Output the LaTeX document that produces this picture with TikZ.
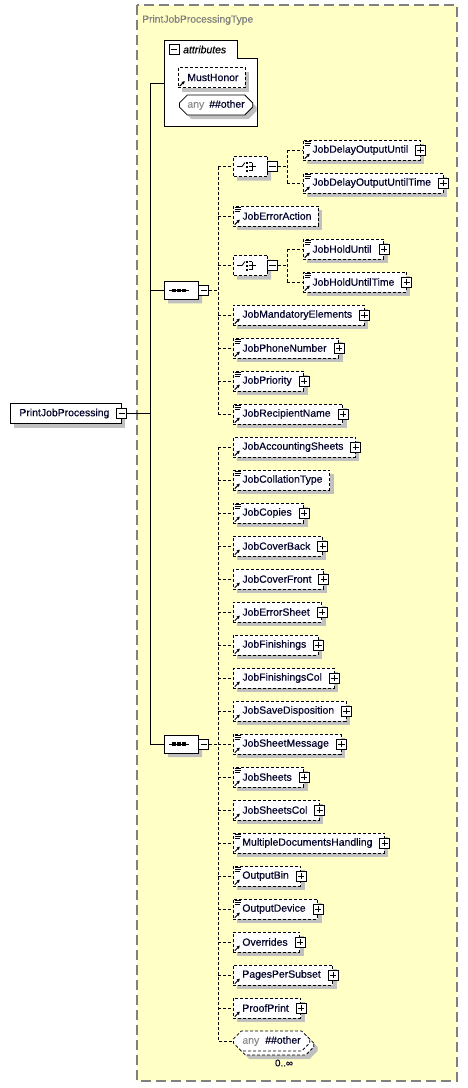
\documentclass[tikz,border=0pt]{standalone}
\usepackage{fontspec}
\newfontfamily\arial{Liberation Sans}[FakeBold=0.35]
\newfontfamily\arialplain{Liberation Sans}
\usetikzlibrary{calc,shadows,arrows.meta,shapes.misc}
\definecolor{bgyellow}{RGB}{255,255,198}
\definecolor{bordergray}{RGB}{128,128,128}
\definecolor{shadowgray}{RGB}{192,192,192}
\definecolor{navytext}{RGB}{0,0,40}
\definecolor{anygray}{RGB}{140,140,140}
\newcommand\elfont{\arial\fontsize{10.45}{12}\selectfont}
\newcommand\titlefont{\arial\fontsize{10.3}{12}\selectfont}
\newcommand\occfont{\arial\fontsize{9.8}{11}\selectfont}
\tikzset{
  conn/.style={line width=0.8pt},
  dconn/.style={line width=0.8pt, dash pattern=on 3pt off 2pt},
  myshadow/.style={drop shadow={shadow xshift=4pt, shadow yshift=-4pt, fill=shadowgray, opacity=1}},
  elbox/.style={draw, line width=0.75pt, dash pattern=on 3pt off 2pt, fill=white,
    minimum height=20pt, inner xsep=0pt, inner ysep=0pt, anchor=west, font=\elfont,
    text=navytext, myshadow},
  pjpbox/.style={draw, line width=0.8pt, fill=white, minimum height=20pt, inner xsep=0pt,
    inner ysep=0pt, anchor=west, font=\elfont, text=navytext, myshadow},
  pbox/.style={draw, fill=white, line width=0.9pt, minimum size=10pt, inner sep=0pt,
    path picture={\draw[line width=0.8pt] ($(path picture bounding box.center)+(-3.2,0)$) -- ++(6.4,0)
      ($(path picture bounding box.center)+(0,-3.2)$) -- ++(0,6.4);}},
  mbox/.style={draw, fill=white, line width=0.9pt, minimum size=10pt, inner sep=0pt,
    path picture={\draw[line width=0.8pt] ($(path picture bounding box.center)+(-3.2,0)$) -- ++(6.4,0);}},
  seqshape/.style={chamfered rectangle, chamfered rectangle xsep=5pt, chamfered rectangle ysep=5pt,
    draw, line width=0.8pt, fill=white, minimum width=34pt, minimum height=18pt, inner sep=0pt, myshadow},
  choiceshape/.style={seqshape, minimum height=20pt, dash pattern=on 3pt off 2pt},
  anyshape/.style={chamfered rectangle, chamfered rectangle xsep=4pt, chamfered rectangle ysep=4pt,
    draw, line width=0.8pt, fill=white, minimum height=20pt, inner xsep=4pt, inner ysep=0pt,
    anchor=west, font=\elfont, text=navytext},
  bgbox/.style={draw=bordergray, fill=bgyellow, line width=1.3pt, dash pattern=on 10pt off 5pt},
  attrbox/.style={draw, fill=white, line width=0.9pt},
}
\newcommand\docmark[1]{%
  \draw[line width=0.6pt] ($(#1.north west)+(1.5,1.5)$) -- ++(6,0)
    ($(#1.north west)+(1.5,3.5)$) -- ++(6,0) ($(#1.north west)+(1.5,5.5)$) -- ++(5,0);}
\newcommand\refmark[1]{%
  \draw[line width=0.9pt, -{Triangle[length=3pt,width=3pt]}] ($(#1.south west)+(1.8,-1.8)$) -- ($(#1.south west)+(6.8,-6.8)$);}
\newcommand\elrow[6]{%
  \ifnum#6=1\relax\def\rpad{12pt}\else\def\rpad{7pt}\fi
  \node[elbox] (#1) at (#2,#3) {\hspace*{9pt}#4\hspace*{\rpad}};
  \ifnum#5=1\relax\docmark{#1}\fi
  \refmark{#1}%
  \ifnum#6=1\relax\node[pbox] (#1p) at (#1.east) {};\fi}
\newcommand\seqsym[1]{%
  \draw[line width=0.8pt] ($(#1.center)+(-12,0)$) -- ($(#1.center)+(8,0)$);
  \foreach \dx in {-7,-2,3}{\fill ($(#1.center)+(\dx-1.6,-1.6)$) rectangle ($(#1.center)+(\dx+1.6,1.6)$);}}
\newcommand\choicesym[1]{%
  \draw[line width=0.8pt] ($(#1.center)+(-13,0)$) -- ($(#1.center)+(-8,0)$) -- ($(#1.center)+(-5,-4)$);
  \foreach \dy in {-4,0,4}{\fill ($(#1.center)+(-4,\dy-1)$) rectangle ($(#1.center)+(-2,\dy+1)$);
    \draw[line width=0.8pt] ($(#1.center)+(-1,\dy)$) -- ($(#1.center)+(2,\dy)$);}
  \draw[line width=0.8pt] ($(#1.center)+(2,-4)$) -- ($(#1.center)+(2,4)$) ($(#1.center)+(2,0)$) -- ($(#1.center)+(6,0)$);}
\newcommand\br[2]{\draw[dconn] (#2.west -| #1) -- (#2.west);}
\begin{document}
\begin{tikzpicture}[x=1pt,y=-1pt]
\useasboundingbox (0,0) rectangle (468,1088);
\fill[white] (0,0) rectangle (468,1088);
\draw[bgbox] (137,5) rectangle (457,1081);
\node[font=\titlefont, text=bordergray, anchor=west, inner sep=0pt] (title) at (142,20) {PrintJobProcessingType};
% attributes
\draw[attrbox] (164,40) -- (237,40) -- (237,58) -- (257,58) -- (257,126) -- (164,126) -- cycle;
\node[mbox] (attrm) at (174,49.5) {};
\node[font=\elfont\itshape, anchor=west, inner sep=0pt] (attrlabel) at (183,49.5) {attributes};
\elrow{MustHonor}{178}{77.5}{MustHonor}{0}{0}
\node[anyshape, myshadow] (attany) at (179,105) {{\color{anygray}any}\hspace*{5pt}\#\#other};
\coordinate (attrc) at (164,83);
\coordinate (btop) at (150,83);
\coordinate (bbot) at (150,744);
% root
\node[pjpbox] (pjp) at (10,413.5) {\hspace*{9pt}PrintJobProcessing\hspace*{12pt}};
\node[mbox] (pjpm) at (pjp.east) {};
% sequences
\node[seqshape] (seq1) at (181,290.25) {};
\seqsym{seq1}
\node[mbox] (seq1m) at ($(seq1.east)+(5.5,0)$) {};
\node[seqshape] (seq2) at (181,744) {};
\seqsym{seq2}
\node[mbox] (seq2m) at ($(seq2.east)+(5.5,0)$) {};
\coordinate (s1top) at (218,166.5);
\coordinate (s1bot) at (218,414);
\coordinate (s2top) at (218,447);
\coordinate (s2bot) at (218,1041);
% choices
\node[choiceshape] (ch1) at (250,166.5) {};
\choicesym{ch1}
\node[mbox] (ch1m) at ($(ch1.east)+(5,0)$) {};
\node[choiceshape] (ch2) at (250,265.5) {};
\choicesym{ch2}
\node[mbox] (ch2m) at ($(ch2.east)+(5,0)$) {};
\coordinate (c1top) at (287,150);
\coordinate (c1bot) at (287,183);
\coordinate (c2top) at (287,249);
\coordinate (c2bot) at (287,282);
% elements
\elrow{e0}{303}{150}{JobDelayOutputUntil}{1}{1}
\elrow{e1}{303}{183}{JobDelayOutputUntilTime}{1}{1}
\elrow{e2}{233}{216}{JobErrorAction}{1}{0}
\elrow{e3}{303}{249}{JobHoldUntil}{1}{1}
\elrow{e4}{303}{282}{JobHoldUntilTime}{1}{1}
\elrow{e5}{233}{315}{JobMandatoryElements}{0}{1}
\elrow{e6}{233}{348}{JobPhoneNumber}{1}{1}
\elrow{e7}{233}{381}{JobPriority}{1}{1}
\elrow{e8}{233}{414}{JobRecipientName}{1}{1}
\elrow{e9}{233}{447}{JobAccountingSheets}{0}{1}
\elrow{e10}{233}{480}{JobCollationType}{1}{0}
\elrow{e11}{233}{513}{JobCopies}{1}{1}
\elrow{e12}{233}{546}{JobCoverBack}{0}{1}
\elrow{e13}{233}{579}{JobCoverFront}{0}{1}
\elrow{e14}{233}{612}{JobErrorSheet}{0}{1}
\elrow{e15}{233}{645}{JobFinishings}{0}{1}
\elrow{e16}{233}{678}{JobFinishingsCol}{0}{1}
\elrow{e17}{233}{711}{JobSaveDisposition}{0}{1}
\elrow{e18}{233}{744}{JobSheetMessage}{1}{1}
\elrow{e19}{233}{777}{JobSheets}{1}{1}
\elrow{e20}{233}{810}{JobSheetsCol}{0}{1}
\elrow{e21}{233}{843}{MultipleDocumentsHandling}{1}{1}
\elrow{e22}{233}{876}{OutputBin}{1}{1}
\elrow{e23}{233}{909}{OutputDevice}{1}{1}
\elrow{e24}{233}{942}{Overrides}{0}{1}
\elrow{e25}{233}{975}{PagesPerSubset}{0}{1}
\elrow{e26}{233}{1008}{ProofPrint}{0}{1}
% any element (repeated)
\node[anyshape, dash pattern=on 3pt off 2pt, inner xsep=5pt, myshadow] (anyb) at (237,1045) {\phantom{any}\hspace*{6pt}\phantom{\#\#other}};
\node[anyshape, dash pattern=on 3pt off 2pt, inner xsep=5pt] (anyf) at (233,1041) {{\color{anygray}any}\hspace*{6pt}\#\#other};
\node[font=\occfont, text=navytext, inner sep=0pt] (occ) at (284,1063) {0..∞};
% solid connectors
\draw[conn] (pjpm.east) -- (pjpm.east -| btop);
\draw[conn] (attrc) -- (btop) -- (bbot) -- (seq2.west);
\draw[conn] (seq1.west -| btop) -- (seq1.west);
% sequence 1
\draw[dconn] (seq1m.east) -- (seq1m.east -| s1top);
\draw[dconn] (s1top) -- (s1bot);
\br{s1top}{ch1}
\br{s1top}{e2}
\br{s1top}{ch2}
\br{s1top}{e5}
\br{s1top}{e6}
\br{s1top}{e7}
\br{s1top}{e8}
% choices
\draw[dconn] (ch1m.east) -- (ch1m.east -| c1top);
\draw[dconn] (c1top) -- (c1bot);
\br{c1top}{e0}
\br{c1top}{e1}
\draw[dconn] (ch2m.east) -- (ch2m.east -| c2top);
\draw[dconn] (c2top) -- (c2bot);
\br{c2top}{e3}
\br{c2top}{e4}
% sequence 2
\draw[dconn] (seq2m.east) -- (seq2m.east -| s2top);
\draw[dconn] (s2top) -- (s2bot) -- (anyf.west);
\foreach \n in {e9,e10,e11,e12,e13,e14,e15,e16,e17,e18,e19,e20,e21,e22,e23,e24,e25,e26}{\br{s2top}{\n}}
\end{tikzpicture}
\end{document}
